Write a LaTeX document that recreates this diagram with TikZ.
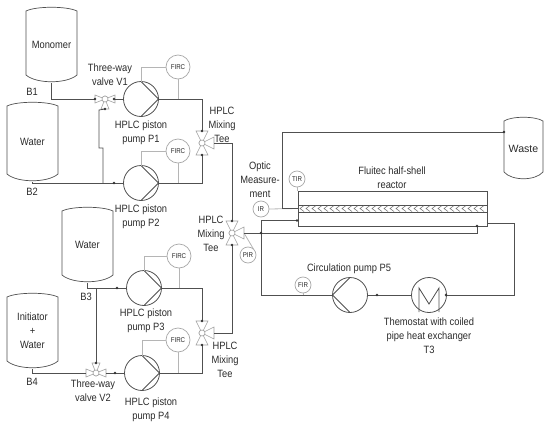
\documentclass[tikz,border=0pt]{standalone}
\usepackage{fontspec}
\setmainfont[FakeStretch=0.88]{Liberation Sans}
\newfontfamily\widefont{Liberation Sans}
\usetikzlibrary{calc}
\definecolor{pipecol}{HTML}{505050}
\definecolor{sigcol}{HTML}{B5B5B5}
\definecolor{instcol}{HTML}{A8A8A8}
\definecolor{valvecol}{HTML}{A0A0A0}
\definecolor{txtcol}{HTML}{2A2A2A}
\tikzset{
  x=1pt,y=-1pt,
  every node/.style={inner sep=0pt,outer sep=0pt,text=txtcol},
  lbl/.style={font=\fontsize{10.6}{14}\selectfont,align=center},
  pipe/.style={draw=pipecol,line width=0.8pt},
  sig/.style={draw=sigcol,line width=0.8pt},
  tankbox/.style={lbl},
  tankline/.style={draw=pipecol,line width=0.7pt},
  pumpc/.style={circle,draw=pipecol,line width=0.8pt,minimum size=35pt},
  inst/.style={circle,draw=instcol,line width=0.7pt,fill=white,font=\fontsize{7}{8}\selectfont},
  dotn/.style={circle,fill=black!80,minimum size=2.6pt},
  valvec/.style={circle,draw=valvecol,line width=0.6pt,minimum size=6pt},
  valvet/.style={draw=valvecol,line width=0.6pt,fill=white},
}
% name, x centre, y centre, width, height, text
\newcommand\tankdraw[6]{%
  \node[tankbox,minimum width=#4pt,minimum height=#5pt] (#1) at (#2,#3) {#6};
  \draw[tankline] ([yshift=-4pt]#1.north west)
    .. controls ([xshift=#4*0.2pt,yshift=1pt]#1.north west) and ([xshift=-#4*0.2pt,yshift=1pt]#1.north east) .. ([yshift=-4pt]#1.north east)
    -- ([yshift=8pt]#1.south east)
    .. controls ([xshift=-#4*0.2pt,yshift=-1pt]#1.south east) and ([xshift=#4*0.2pt,yshift=-1pt]#1.south west) .. ([yshift=8pt]#1.south west)
    -- cycle;
}
% name, position, angles, length, half width
\newcommand\valvedraw[5]{%
  \node[valvec] (#1) at #2 {};
  \foreach \a in {#3} {
    \coordinate (#1-\a) at ($(#1)+(\a:#4pt)$);
    \draw[valvet] (#1.center) -- ($(#1)+(\a:#4pt)+(\a+90:#5pt)$) -- ($(#1)+(\a:#4pt)+(\a-90:#5pt)$) -- cycle;
  }
  \node[valvec,fill=white] at (#1) {};
}
\newcommand\pumpR[2]{%
  \node[pumpc] (#1) at #2 {};
  \draw[pipe] (#1.north) -- (#1.east) -- (#1.south);
}
\newcommand\pumpL[2]{%
  \node[pumpc] (#1) at #2 {};
  \draw[pipe] (#1.north) -- (#1.west) -- (#1.south);
}
\begin{document}
\begin{tikzpicture}
\useasboundingbox (0,0) rectangle (550,426);
% tanks
\tankdraw{B1t}{51.5}{45}{51}{76}{Monomer}
\tankdraw{B2t}{32.5}{142}{51}{80}{Water}
\tankdraw{B3t}{87.5}{245}{51}{76}{Water}
\tankdraw{B4t}{32.5}{331}{51}{76}{Initiator\\+\\Water}
\tankdraw{Wt}{523.5}{148.5}{39}{63}{{\widefont Waste}}
% pumps
\pumpR{P1}{(141,99)}
\pumpR{P2}{(141,183)}
\pumpR{P3}{(144,288)}
\pumpR{P4}{(142,373)}
\pumpL{P5}{(350,295)}
\node[pumpc] (HX) at (429,295) {};
\draw[pipe] ($(HX)+(-10,17)$) -- ($(HX)+(-10,-7)$) -- ($(HX)+(0,9)$) -- ($(HX)+(10,-7)$) -- ($(HX)+(10,17)$);
% valves and tees
\valvedraw{V1}{(105,99)}{180,0,270}{10}{4}
\valvedraw{V2}{(96,373)}{180,0,90}{10}{4}
\valvedraw{T1}{(202,143)}{90,270,0}{12}{6}
\valvedraw{T3}{(202,333)}{90,270,0}{12}{6}
\valvedraw{Tm}{(232,233)}{90,270,0}{12}{6}
% reactor
\node[draw=pipecol,line width=0.8pt,minimum width=189pt,minimum height=35pt] (R) at (392.5,208.5) {};
\draw[pipe] (298,205) -- (487,205) (298,212) -- (487,212);
\foreach \x in {300,306,...,480} {
  \draw[black!60,line width=0.5pt] (\x+4,205.5) -- (\x,208.5) -- (\x+4,211.5);
}
% instruments
\node[inst,minimum size=24pt] (F1) at (178,67) {FIRC};
\node[inst,minimum size=24pt] (F2) at (178,151) {FIRC};
\node[inst,minimum size=24pt] (F3) at (179,256) {FIRC};
\node[inst,minimum size=24pt] (F4) at (178,340) {FIRC};
\node[inst,minimum size=16pt] (TIR) at (297,179) {TIR};
\node[inst,minimum size=16pt] (IR) at (261,209) {IR};
\node[inst,minimum size=16pt] (PIR) at (248,255) {PIR};
\node[inst,minimum size=16pt] (FIR) at (303,285) {FIR};
% signal lines
\draw[sig] (P1.north) |- (F1.west);
\draw[sig] (P2.north) |- (F2.west);
\draw[sig] (P3.north) |- (F3.west);
\draw[sig] (P4.north) |- (F4.west);
\coordinate (s1) at (F1 |- P1); \coordinate (s2) at (F2 |- P2);
\coordinate (s3) at (F3 |- P3); \coordinate (s4) at (F4 |- P4);
\coordinate (sF) at (FIR |- P5);
\draw[sig] (TIR.south) -- (TIR |- R.north);
\draw[sig] (IR.east) -- (R.west);
\draw[sig] (PIR.north east) -- (Tm-0);
% pipes
\coordinate (k1) at (99,110); \coordinate (k2) at (99,148); \coordinate (k3) at (103,148);
\coordinate (k4) at (103,183);
\draw[pipe] (B1t.south) |- (V1-180);
\draw[pipe] (V1-0) -- (P1.west);
\draw[pipe] (B2t.south) |- (P2.west);
\draw[pipe] (k4) -- (k3) -- (k2) -- (k1) -- (V1-270);
\draw[pipe] (P1.east) -| (T1-90);
\draw[pipe] (P2.east) -| (T1-270);
\draw[pipe] (T1-0) -| (Tm-90);
\draw[pipe] (B3t.south) |- (P3.west);
\coordinate (k5) at (V2 |- P3);
\draw[pipe] (k5) -- (V2-90);
\draw[pipe] (B4t.south) |- (V2-180);
\draw[pipe] (V2-0) -- (P4.west);
\draw[pipe] (P3.east) -| (T3-90);
\draw[pipe] (P4.east) -| (T3-270);
\draw[pipe] (T3-0) -| (Tm-270);
\coordinate (wa) at (282,208.5); \coordinate (wb) at (282,132); \coordinate (wc) at (504,132);
\draw[pipe] (R.west) -- (wa) -- (wb) -- (wc);
\coordinate (rb) at (477,226);
\draw[pipe] (Tm-0) -| (rb);
\coordinate (re) at (487,223); \coordinate (rf) at (514,223);
\draw[pipe] (re) -- (rf) |- (HX.east);
\draw[pipe] (HX.west) -- (P5.east);
\coordinate (ra) at (261,220.5); \coordinate (rc) at (298,220.5);
\draw[pipe] (P5.west) -| (ra) -- (rc);
\draw[sig] (s1) -- (F1.south); \draw[sig] (s2) -- (F2.south);
\draw[sig] (s3) -- (F3.south); \draw[sig] (s4) -- (F4.south);
\draw[sig] (sF) -- (FIR.south);
% dots
\foreach \p in {(95,99),(114,99),(105,109),(114,183),(117,288),(96,363),(115,373),(202,131),(202,155),(202,321),(202,345),(232,221),(232,245),(261,233),(297,220.5),(477,226),(504,132),(377,295),(446,295)}
  \node[dotn] at \p {};
% labels
\node[lbl] (l1) at (32,92) {B1};
\node[lbl] (l2) at (32,192) {B2};
\node[lbl] (l3) at (86,297) {B3};
\node[lbl] (l4) at (32,382) {B4};
\node[lbl] (l5) at (110,75) {Three-way\\valve V1};
\node[lbl] (l6) at (93,391) {Three-way\\valve V2};
\node[lbl] (l7) at (141,133) {HPLC piston\\pump P1};
\node[lbl] (l8) at (141,217) {HPLC piston\\pump P2};
\node[lbl] (l9) at (146,321) {HPLC piston\\pump P3};
\node[lbl] (l10) at (151,410) {HPLC piston\\pump P4};
\node[lbl] (l11) at (222,125) {HPLC\\Mixing\\Tee};
\node[lbl] (l12) at (211,234) {HPLC\\Mixing\\Tee};
\node[lbl] (l13) at (225,360) {HPLC\\Mixing\\Tee};
\node[lbl] (l14) at (260,180) {Optic\\Measure-\\ment};
\node[lbl] (l15) at (392,178) {Fluitec half-shell\\reactor};
\node[lbl] (l16) at (349,268.5) {Circulation pump P5};
\node[lbl] (l17) at (429,336) {Themostat with coiled\\pipe heat exchanger\\T3};
\end{tikzpicture}
\end{document}
